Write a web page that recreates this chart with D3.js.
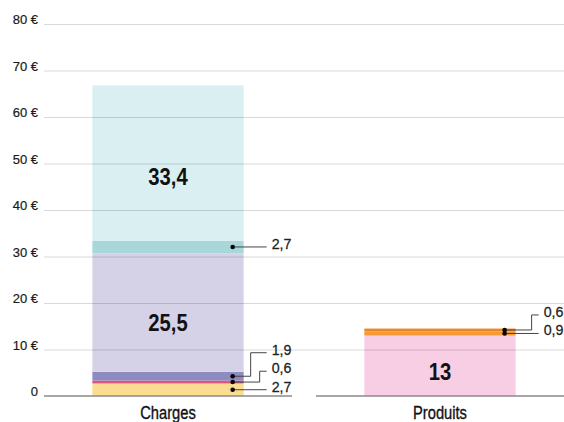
<!DOCTYPE html>
<html lang="fr">
<head>
<meta charset="utf-8">
<script src="https://cdn.jsdelivr.net/npm/d3@7"></script>
<style>
  html, body { margin: 0; padding: 0; background: #fff; }
  svg { display: block; }
</style>
</head>
<body>
<svg id="chart" width="564" height="422"></svg>
<script>
// Répartition des charges et des produits (en euros)
const categories = ["Charges", "Produits"];
const chargesValues = [2.7, 0.6, 1.9, 25.5, 2.7, 33.4];
const produitsValues = [13, 0.9, 0.6];
const tickValues = [0, 10, 20, 30, 40, 50, 60, 70, 80];

// Couleurs des segments, de bas en haut
const chargesColors = ["#fbdd92", "#e2527c", "#8e8bc0", "#d5d2e7", "#a8d7da", "#d9eff2"];
const produitsColors = ["#f7cee3", "#f39a39", "#ec8524"];

const series = [
  { name: categories[0], values: chargesValues, colors: chargesColors },
  { name: categories[1], values: produitsValues, colors: produitsColors }
];

const W = 564, H = 422;
const svg = d3.select("#chart");
const FONT = "'Liberation Sans', Arial, Helvetica, sans-serif";
// Texte resserré horizontalement (effet « condensed »)
const NARROW = 0.84;

const locale = d3.formatLocale({ decimal: ",", thousands: "\u00a0", grouping: [3], currency: ["", "\u00a0€"] });
const fmt = locale.format(".1~f");

const x = d3.scaleBand().domain(categories).range([44, W]).paddingInner(0.088).paddingOuter(0);
const y = d3.scaleLinear().domain([0, 80]).range([396, 24]);
const barW = x.bandwidth() * 0.61;

// Empilement des segments
series.forEach(s => {
  let acc = 0;
  s.segments = s.values.map((v, i) => {
    const seg = { value: v, y0: acc, y1: acc + v, color: s.colors[i] };
    acc += v;
    return seg;
  });
  s.x0 = x(s.name) + (x.bandwidth() - barW) / 2;
  s.x1 = s.x0 + barW;
});

// Barres
const bars = svg.append("g");
series.forEach(s => {
  bars.selectAll(null)
    .data(s.segments)
    .join("rect")
    .attr("x", s.x0)
    .attr("width", barW)
    .attr("y", d => y(d.y1))
    .attr("height", d => y(d.y0) - y(d.y1))
    .attr("fill", d => d.color);
});

// Grille et graduations
const axis = d3.axisLeft(y)
  .tickValues(tickValues)
  .tickSize(-(W - 44))
  .tickFormat(d => d === 0 ? "0" : d + " €");
const gAxis = svg.append("g").attr("transform", "translate(44,0)").call(axis);
gAxis.attr("font-family", FONT).attr("font-size", 13);
gAxis.select(".domain").remove();
gAxis.selectAll(".tick line")
  .attr("stroke", "rgba(0,0,0,0.15)")
  .attr("stroke-width", 1)
  .filter(d => d === 0).remove();
gAxis.selectAll(".tick text")
  .attr("x", -6)
  .attr("dy", "-0.5")
  .attr("fill", "#1a1a1a")
  .attr("stroke", "#1a1a1a")
  .attr("stroke-width", 0.2);

// Ligne de base, interrompue entre les catégories
svg.append("g").selectAll("line")
  .data(categories)
  .join("line")
  .attr("x1", d => x(d))
  .attr("x2", d => x(d) + x.bandwidth())
  .attr("y1", y(0))
  .attr("y2", y(0))
  .attr("stroke", "#8a8a8a")
  .attr("stroke-width", 1.5);

// Noms des catégories
svg.append("g").selectAll("text")
  .data(categories)
  .join("text")
  .attr("transform", d => `translate(${x(d) + x.bandwidth() / 2},418.5) scale(${NARROW},1)`)
  .attr("text-anchor", "middle")
  .attr("fill", "#111")
  .attr("stroke", "#111")
  .attr("stroke-width", 0.35)
  .style("font-family", FONT)
  .style("font-size", "17.5px")
  .text(d => d);

// Étiquettes internes pour les grands segments
const inner = svg.append("g");
series.forEach(s => {
  inner.selectAll(null)
    .data(s.segments.filter(d => d.value >= 5))
    .join("text")
    .attr("transform", d => `translate(${(s.x0 + s.x1) / 2},${y(d.y0 + 0.41 * d.value)}) scale(0.88,1)`)
    .attr("dy", "0.36em")
    .attr("text-anchor", "middle")
    .attr("fill", "#111")
    .style("font-family", FONT)
    .style("font-weight", "bold")
    .style("font-size", "23px")
    .text(d => fmt(d.value));
});

// Étiquettes externes avec traits de rappel pour les petits segments
const leaders = svg.append("g");
const gapY = 18.5;
series.forEach(s => {
  const small = s.segments.filter(d => d.value < 5);
  // positions verticales des étiquettes, écartées pour ne pas se chevaucher
  let prev = Infinity;
  small.forEach(d => {
    d.mid = y((d.y0 + d.y1) / 2);
    d.ly = Math.min(d.mid, prev - gapY);
    prev = d.ly;
  });
  const dotX = s.x1 - 11;
  const endX = s.x1 + 23;
  let bendRank = 0;
  small.forEach(d => {
    let pts;
    if (Math.abs(d.ly - d.mid) < 0.5) {
      pts = [[dotX, d.mid], [endX, d.mid]];
      d.ly = d.mid;
    } else {
      const bx = s.x1 + 16 - 9 * bendRank;
      bendRank++;
      pts = [[dotX, d.mid], [bx, d.mid], [bx, d.ly], [endX, d.ly]];
    }
    leaders.append("path")
      .attr("d", d3.line()(pts))
      .attr("fill", "none")
      .attr("stroke", "#444")
      .attr("stroke-width", 1);
  });
  small.forEach(d => {
    leaders.append("circle")
      .attr("cx", dotX)
      .attr("cy", d.mid)
      .attr("r", 2.3)
      .attr("fill", "#000");
    leaders.append("text")
      .attr("transform", `translate(${endX + 5},${d.ly + 2}) scale(0.92,1)`)
      .attr("fill", "#222")
      .attr("stroke", "#222")
      .attr("stroke-width", 0.25)
      .style("font-family", FONT)
      .style("font-size", "15.5px")
      .text(fmt(d.value));
  });
});
</script>
</body>
</html>
